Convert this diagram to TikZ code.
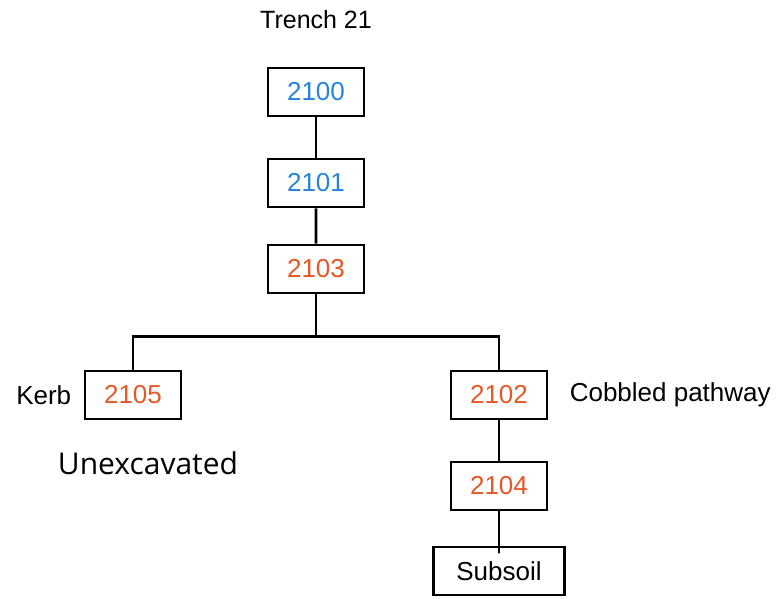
\documentclass[tikz,border=0pt]{standalone}
\usepackage{fontspec}
\setmainfont{Liberation Sans}
\newfontfamily\unexfont{Open Sans}
\usetikzlibrary{positioning}

\definecolor{ctxblue}{RGB}{38,132,218}
\definecolor{ctxred}{RGB}{228,88,38}

\begin{document}
\begin{tikzpicture}
  [x=1pt,y=1pt,line width=2.8pt,
    every node/.style={font=\fontsize{26}{30}\selectfont},
    every label/.style={inner sep=0pt},
    unit/.style={draw,minimum width=96pt,minimum height=48pt,inner sep=2pt},
    edge from parent/.style={draw,line width=2.8pt},
    parent anchor=south, child anchor=north,
    level 1/.style={level distance=91pt},
    level 2/.style={level distance=86pt},
    level 3/.style={level distance=126pt,sibling distance=366pt,
      edge from parent path={(\tikzparentnode.south) -- ++(0,-42) -| (\tikzchildnode.north)}},
    level 4/.style={level distance=91pt},
    level 5/.style={level distance=85pt},
]
  \useasboundingbox (0,0) rectangle (781,-599);

  \node[unit,text=ctxblue,label={[label distance=36pt,font=\fontsize{25}{30}\selectfont]90:Trench 21}] (u2100) at (316,-92) {2100}
  child {node[unit,text=ctxblue] (u2101) {2101}
    child {node[unit,text=ctxred] (u2103) {2103}
      child {node[unit,text=ctxred,
          label={[label distance=11pt,text=black]180:Kerb},
          label={[label distance=30pt,xshift=15pt,text=black,font=\unexfont\fontsize{30}{34}\selectfont]-90:Unexcavated}] (u2105) {2105}}
      child {node[unit,text=ctxred,label={[label distance=20pt,text=black]0:Cobbled pathway}] (u2102) {2102}
        child {node[unit,text=ctxred] (u2104) {2104}
          child {node[unit,minimum width=131pt] (subsoil) {Subsoil}}
        }
      }
    }
  };
\end{tikzpicture}
\end{document}
